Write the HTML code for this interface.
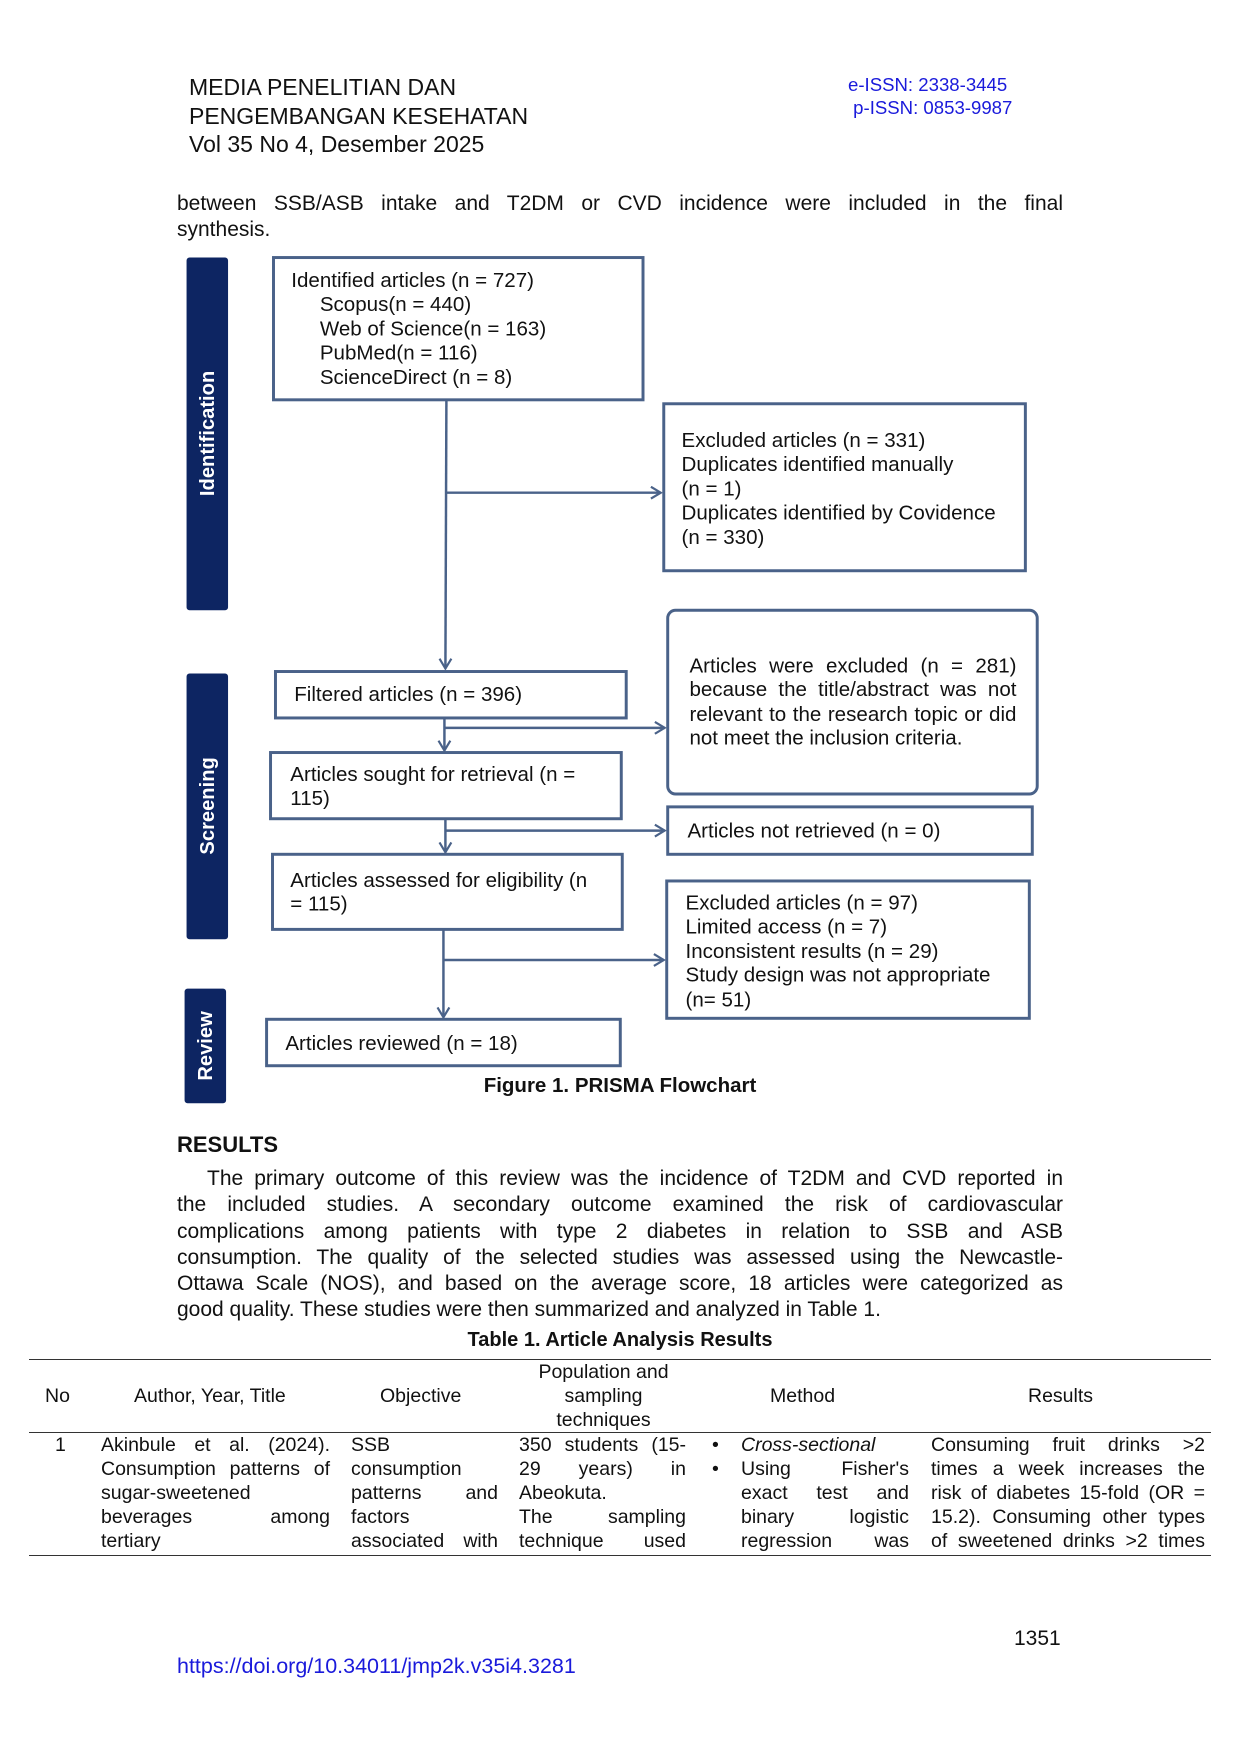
<!DOCTYPE html>
<html><head><meta charset="utf-8"><style>
body{margin:0;width:1240px;height:1754px;background:#fff;position:relative;font-family:"Liberation Sans",Arial,sans-serif;color:#111;overflow:hidden}
.a{position:absolute;white-space:nowrap}
.t{font-size:20.8px;line-height:24.4px}
.p{font-size:21px;line-height:26.3px}
.c{font-size:19.5px;line-height:24px}
.l{display:block;white-space:nowrap}
.jl{display:block;text-align:justify;text-align-last:justify;white-space:normal}
#fc{position:absolute;left:0;top:0;width:1240px;height:1200px;transform:scale(0.988);transform-origin:150px 220px}
</style></head><body>
<div class="a" style="left:189px;top:73px;font-size:23px;line-height:28.5px">MEDIA PENELITIAN DAN<br>PENGEMBANGAN KESEHATAN<br>Vol 35 No 4, Desember 2025</div>
<div class="a" style="left:848px;top:73px;font-size:18.6px;line-height:23px;color:#1a1adb">e-ISSN: 2338-3445<br>&nbsp;p-ISSN: 0853-9987</div>
<div class="a p" style="left:177px;top:191px;width:886px;white-space:normal;text-align:justify;text-align-last:justify">between SSB/ASB intake and T2DM or CVD incidence were included in the final</div>
<div class="a p" style="left:177px;top:217px">synthesis.</div>

<div id="fc">
<svg class="a" style="left:0;top:0" width="1240" height="1200">
<defs><marker id="ar" markerWidth="14" markerHeight="14" refX="12" refY="7" orient="auto" markerUnits="userSpaceOnUse"><path d="M2,1 L12,7 L2,13" fill="none" stroke="#4a6289" stroke-width="2.2"/></marker></defs>
<g fill="#0d2562"><rect x="187" y="258" width="42" height="357" rx="3"/><rect x="187" y="679" width="42" height="269" rx="3"/><rect x="185" y="998" width="42" height="116" rx="3"/></g>
<g fill="none" stroke="#4a6289" stroke-width="3">
<rect x="275" y="258" width="374" height="144"/>
<rect x="670" y="406" width="366" height="169"/>
<rect x="674" y="615" width="374" height="186" rx="8"/>
<rect x="277" y="677" width="355" height="47"/>
<rect x="272" y="759" width="355" height="67"/>
<rect x="674" y="814" width="369" height="48"/>
<rect x="274" y="862" width="354" height="76"/>
<rect x="673" y="889" width="367" height="139"/>
<rect x="268" y="1029" width="358" height="47"/>
</g>
<g fill="none" stroke="#4a6289" stroke-width="2.5">
<path d="M450,402 L449,674" marker-end="url(#ar)"/>
<path d="M450,496 L667,496" marker-end="url(#ar)"/>
<path d="M448,724 L448,757" marker-end="url(#ar)"/>
<path d="M448,734 L671,734" marker-end="url(#ar)"/>
<path d="M449,826 L449,860" marker-end="url(#ar)"/>
<path d="M449,838 L671,838" marker-end="url(#ar)"/>
<path d="M447,938 L447,1027" marker-end="url(#ar)"/>
<path d="M447,969 L670,969" marker-end="url(#ar)"/>
</g>
<g fill="#fff" font-family="Liberation Sans,Arial,sans-serif" font-weight="bold" font-size="20.4">
<text transform="translate(215,436) rotate(-90)" text-anchor="middle">Identification</text>
<text transform="translate(215,813) rotate(-90)" text-anchor="middle">Screening</text>
<text transform="translate(213,1056) rotate(-90)" text-anchor="middle">Review</text>
</g>
</svg>
<div class="a t" style="left:293px;top:270px">Identified articles (n = 727)<br>&nbsp;&nbsp;&nbsp;&nbsp;&nbsp;Scopus(n = 440)<br>&nbsp;&nbsp;&nbsp;&nbsp;&nbsp;Web of Science(n = 163)<br>&nbsp;&nbsp;&nbsp;&nbsp;&nbsp;PubMed(n = 116)<br>&nbsp;&nbsp;&nbsp;&nbsp;&nbsp;ScienceDirect (n = 8)</div>
<div class="a t" style="left:688px;top:432px">Excluded articles (n = 331)<br>Duplicates identified manually<br>(n = 1)<br>Duplicates identified by Covidence<br>(n = 330)</div>
<div class="a t" style="left:696px;top:660px;width:331px;white-space:normal">
<span class="jl">Articles were excluded (n = 281)</span><span class="jl">because the title/abstract was not</span><span class="jl">relevant to the research topic or did</span><span class="l">not meet the inclusion criteria.</span></div>
<div class="a t" style="left:296px;top:689px">Filtered articles (n = 396)</div>
<div class="a t" style="left:292px;top:770px">Articles sought for retrieval (n =<br>115)</div>
<div class="a t" style="left:694px;top:827px">Articles not retrieved (n = 0)</div>
<div class="a t" style="left:292px;top:877px">Articles assessed for eligibility (n<br>= 115)</div>
<div class="a t" style="left:692px;top:900px">Excluded articles (n = 97)<br>Limited access (n = 7)<br>Inconsistent results (n = 29)<br>Study design was not appropriate<br>(n= 51)</div>
<div class="a t" style="left:287px;top:1042px">Articles reviewed (n = 18)</div>
</div>
<div class="a" style="left:420px;top:1074px;width:400px;text-align:center;font-size:20.5px;font-weight:bold">Figure 1. PRISMA Flowchart</div>

<div class="a" style="left:177px;top:1132px;font-size:22px;font-weight:bold">RESULTS</div>
<div class="a p" style="left:177px;top:1166px;width:886px;white-space:normal">
<span class="jl" style="text-indent:30px">The primary outcome of this review was the incidence of T2DM and CVD reported in</span>
<span class="jl">the included studies. A secondary outcome examined the risk of cardiovascular</span>
<span class="jl">complications among patients with type 2 diabetes in relation to SSB and ASB</span>
<span class="jl">consumption. The quality of the selected studies was assessed using the Newcastle-</span>
<span class="jl">Ottawa Scale (NOS), and based on the average score, 18 articles were categorized as</span>
<span class="l">good quality. These studies were then summarized and analyzed in Table 1.</span></div>
<div class="a" style="left:420px;top:1329px;width:400px;text-align:center;font-size:20px;font-weight:bold">Table 1. Article Analysis Results</div>

<div class="a" style="left:29px;top:1359px;width:1182px;border-top:1.5px solid #333"></div>
<div class="a" style="left:29px;top:1432px;width:1182px;border-top:1.5px solid #333"></div>
<div class="a" style="left:29px;top:1555px;width:1182px;border-top:1.5px solid #333"></div>
<div class="a c" style="left:45px;top:1384px">No</div>
<div class="a c" style="left:134px;top:1384px">Author, Year, Title</div>
<div class="a c" style="left:380px;top:1384px">Objective</div>
<div class="a c" style="left:511px;top:1360px;width:185px;text-align:center">Population and<br>sampling<br>techniques</div>
<div class="a c" style="left:770px;top:1384px">Method</div>
<div class="a c" style="left:1028px;top:1384px">Results</div>

<div class="a c" style="left:55px;top:1433px">1</div>
<div class="a c" style="left:101px;top:1433px;width:229px;white-space:normal"><span class="jl">Akinbule et al. (2024).</span><span class="jl">Consumption patterns of</span><span class="l">sugar-sweetened</span><span class="jl">beverages among</span><span class="l">tertiary</span></div>
<div class="a c" style="left:351px;top:1433px;width:147px;white-space:normal"><span class="l">SSB</span><span class="l">consumption</span><span class="jl">patterns and</span><span class="l">factors</span><span class="jl">associated with</span></div>
<div class="a c" style="left:519px;top:1433px;width:167px;white-space:normal"><span class="jl">350 students (15-</span><span class="jl">29 years) in</span><span class="l">Abeokuta.</span><span class="jl">The sampling</span><span class="jl">technique used</span></div>
<div class="a c" style="left:712px;top:1433px">•</div>
<div class="a c" style="left:712px;top:1457px">•</div>
<div class="a c" style="left:741px;top:1433px;width:168px;white-space:normal"><span class="l" style="font-style:italic">Cross-sectional</span><span class="jl">Using Fisher's</span><span class="jl">exact test and</span><span class="jl">binary logistic</span><span class="jl">regression was</span></div>
<div class="a c" style="left:931px;top:1433px;width:274px;white-space:normal"><span class="jl">Consuming fruit drinks &gt;2</span><span class="jl">times a week increases the</span><span class="jl">risk of diabetes 15-fold (OR =</span><span class="jl">15.2). Consuming other types</span><span class="jl">of sweetened drinks &gt;2 times</span></div>

<div class="a" style="left:1014px;top:1627px;font-size:21px">1351</div>
<div class="a" style="left:177px;top:1654px;font-size:21.5px;color:#1a1adb">https://doi.org/10.34011/jmp2k.v35i4.3281</div>
</body></html>
